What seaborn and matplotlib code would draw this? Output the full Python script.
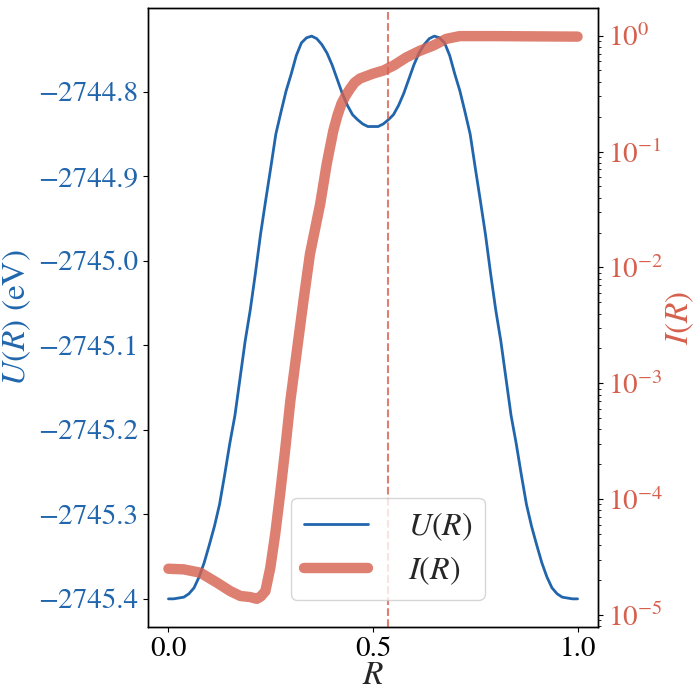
import numpy as np
import pandas as pd
import matplotlib
matplotlib.use("Agg")
import matplotlib.pyplot as plt
import seaborn as sns

# ---- data ----
R_U = [0.0000, 0.0125, 0.0250, 0.0375, 0.0500, 0.0625, 0.0750, 0.0875, 0.1000,
       0.1125, 0.1250, 0.1375, 0.1500, 0.1625, 0.1750, 0.1875, 0.2000, 0.2125,
       0.2250, 0.2375, 0.2500, 0.2625, 0.2750, 0.2875, 0.3000, 0.3125, 0.3250,
       0.3375, 0.3500, 0.3625, 0.3750, 0.3875, 0.4000, 0.4125, 0.4250, 0.4375,
       0.4500, 0.4625, 0.4750, 0.4875, 0.5000, 0.5125, 0.5250, 0.5375, 0.5500,
       0.5625, 0.5750, 0.5875, 0.6000, 0.6125, 0.6250, 0.6375, 0.6500, 0.6625,
       0.6750, 0.6875, 0.7000, 0.7125, 0.7250, 0.7375, 0.7500, 0.7625, 0.7750,
       0.7875, 0.8000, 0.8125, 0.8250, 0.8375, 0.8500, 0.8625, 0.8750, 0.8875,
       0.9000, 0.9125, 0.9250, 0.9375, 0.9500, 0.9625, 0.9750, 0.9875, 1.0000]
U_vals = [-2745.400, -2745.400, -2745.399, -2745.398, -2745.394, -2745.387,
          -2745.374, -2745.357, -2745.336, -2745.314, -2745.288, -2745.253,
          -2745.216, -2745.183, -2745.139, -2745.095, -2745.058, -2745.015,
          -2744.969, -2744.929, -2744.890, -2744.850, -2744.824, -2744.799,
          -2744.779, -2744.757, -2744.742, -2744.736, -2744.734, -2744.737,
          -2744.744, -2744.754, -2744.768, -2744.785, -2744.802, -2744.816,
          -2744.827, -2744.833, -2744.838, -2744.841, -2744.841, -2744.841,
          -2744.838, -2744.833, -2744.827, -2744.816, -2744.802, -2744.785,
          -2744.768, -2744.754, -2744.744, -2744.737, -2744.734, -2744.736,
          -2744.742, -2744.757, -2744.779, -2744.799, -2744.824, -2744.850,
          -2744.890, -2744.929, -2744.969, -2745.015, -2745.058, -2745.095,
          -2745.139, -2745.183, -2745.216, -2745.253, -2745.288, -2745.314,
          -2745.336, -2745.357, -2745.374, -2745.387, -2745.394, -2745.398,
          -2745.399, -2745.400, -2745.400]

R_I = [0.000, 0.037, 0.078, 0.119, 0.151, 0.176, 0.200, 0.216, 0.226, 0.237,
       0.249, 0.261, 0.273, 0.285, 0.298, 0.314, 0.330, 0.346, 0.371, 0.387,
       0.403, 0.413, 0.423, 0.433, 0.444, 0.455, 0.468, 0.500, 0.525, 0.550,
       0.582, 0.615, 0.647, 0.679, 0.712, 0.800, 0.900, 1.000]
I_vals = [2.51e-5, 2.48e-5, 2.32e-5, 1.90e-5, 1.61e-5, 1.46e-5, 1.43e-5,
          1.38e-5, 1.45e-5, 1.61e-5, 2.56e-5, 5.00e-5, 1.11e-4, 2.61e-4,
          7.05e-4, 1.91e-3, 5.15e-3, 1.31e-2, 3.54e-2, 7.85e-2, 0.151, 0.204,
          0.259, 0.303, 0.348, 0.393, 0.426, 0.470, 0.499, 0.551, 0.650, 0.741,
          0.820, 0.937, 0.990, 0.990, 0.985, 0.980]

R_marker = 0.537
x_ticks = [0.0, 0.5, 1.0]
u_ticks = [-2744.8, -2744.9, -2745.0, -2745.1, -2745.2, -2745.3, -2745.4]

BLUE = "#2166ac"
RED = "#d6604d"

sns.set_style("ticks")
plt.rcParams["font.family"] = ["STIXGeneral", "DejaVu Serif"]
plt.rcParams["mathtext.fontset"] = "stix"
plt.rcParams["axes.unicode_minus"] = True
plt.rcParams["axes.edgecolor"] = "black"
plt.rcParams["xtick.color"] = "black"
plt.rcParams["ytick.color"] = "black"
plt.rcParams["axes.linewidth"] = 1.0

FS = 21
LFS = 24

fig, ax = plt.subplots(figsize=(7, 7), dpi=100)
fig.subplots_adjust(left=0.2114, right=0.8543, bottom=0.1043, top=0.9886)

df_u = pd.DataFrame({"R": R_U, "U": U_vals})
df_i = pd.DataFrame({"R": R_I, "I": I_vals})

sns.lineplot(data=df_u, x="R", y="U", ax=ax, color=BLUE, lw=2.0,
             label=r"$U(R)$", legend=False)
ax.set_xticks(x_ticks)
ax.set_yticks(u_ticks)
ax.tick_params(axis="y", labelcolor=BLUE, labelsize=FS, length=3.5, width=0.8)
ax.tick_params(axis="x", labelsize=FS, length=3.5, width=0.8)
ax.set_xlabel(r"$R$", fontsize=LFS, labelpad=0)
ax.set_ylabel(r"$U(R)$ (eV)", fontsize=LFS, color=BLUE)
ax.yaxis.set_label_coords(-0.255, 0.5)
ax.margins(x=0.05, y=0.05)

ax2 = ax.twinx()
ax2.axvline(R_marker, color=RED, ls="--", lw=1.5, alpha=0.8)
sns.lineplot(data=df_i, x="R", y="I", ax=ax2, color=RED, lw=7.5, alpha=0.8,
             label=r"$I(R)$", legend=False)
ax2.set_yscale("log")
ax2.margins(y=0.05)
ax2.tick_params(axis="y", which="major", labelcolor=RED, labelsize=FS, length=3.5, width=0.8)
ax2.tick_params(axis="y", which="minor", length=2, width=0.6)
ax2.set_ylabel(r"$I(R)$", fontsize=LFS, color=RED)
ax2.yaxis.set_label_coords(1.146, 0.5)
ax2.set_xlabel("")

h1, l1 = ax.get_legend_handles_labels()
h2, l2 = ax2.get_legend_handles_labels()
leg = ax2.legend(h1 + h2, l1 + l2, loc="lower center", bbox_to_anchor=(0.533, 0.018),
                 fontsize=23, handletextpad=1.25, handlelength=2.0,
                 labelspacing=0.35, framealpha=0.8)

fig.savefig("out.png", dpi=100)
